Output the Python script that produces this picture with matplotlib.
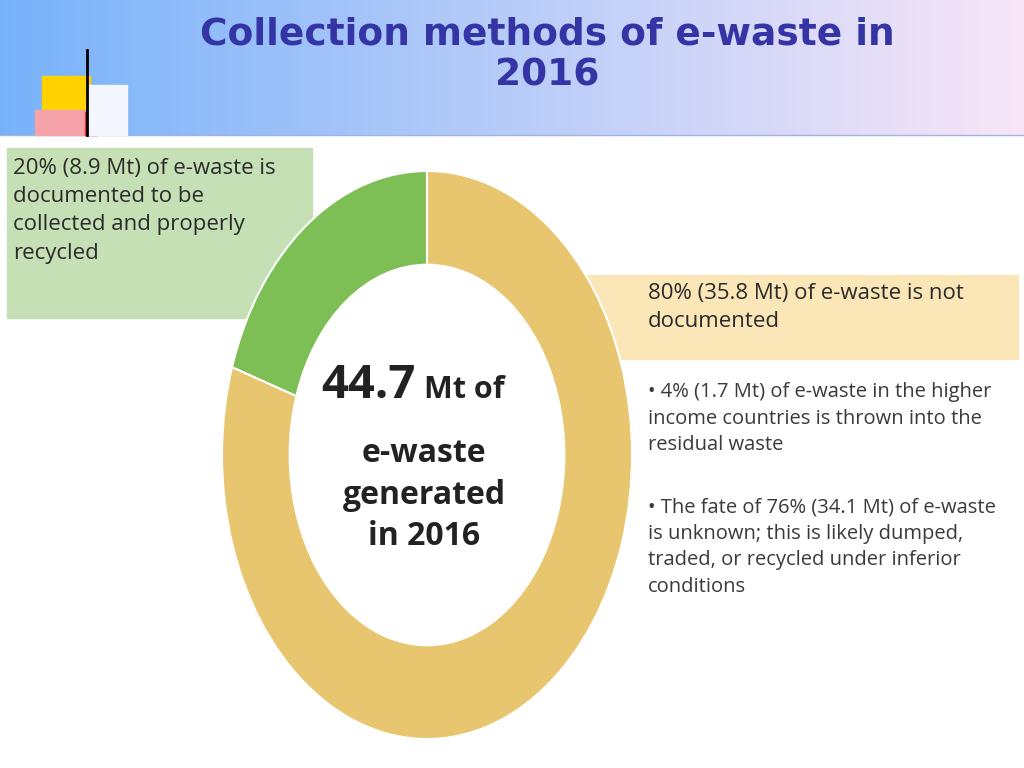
import matplotlib
matplotlib.use("Agg")
import matplotlib.pyplot as plt
import numpy as np
from matplotlib.patches import Rectangle

shares = [20, 80]
labels = ["Documented collected & recycled", "Not documented"]
colors = ["#7DBE55", "#E8C56F"]
title = "Collection methods of e-waste in\n2016"
green_text = "20% (8.9 Mt) of e-waste is\ndocumented to be\ncollected and properly\nrecycled"
tan_text = "80% (35.8 Mt) of e-waste is not\ndocumented"
bullet1 = "• 4% (1.7 Mt) of e-waste in the higher\nincome countries is thrown into the\nresidual waste"
bullet2 = "• The fate of 76% (34.1 Mt) of e-waste\nis unknown; this is likely dumped,\ntraded, or recycled under inferior\nconditions"

FONT = ["Liberation Sans Narrow", "Open Sans", "DejaVu Sans"]

fig = plt.figure(figsize=(10.24, 7.68), dpi=100)
bg = fig.add_axes([0, 0, 1, 1])
bg.set_xlim(0, 1024); bg.set_ylim(768, 0); bg.axis("off")

grad = np.linspace(0, 1, 256)
c1 = np.array([0.47, 0.70, 0.98]); c2 = np.array([0.97, 0.90, 0.97])
img = (c1[None, :] * (1 - grad[:, None]) + c2[None, :] * grad[:, None])[None, :, :]
bg.imshow(img, extent=[0, 1024, 135, 0], aspect="auto", zorder=0)
bg.plot([0, 1024], [135, 135], color="#9DB5E0", lw=1)
bg.add_patch(Rectangle((42, 76), 48, 36, color="#FFD200", zorder=2))
bg.add_patch(Rectangle((35, 110), 62, 25, color="#F5A3A8", zorder=2))
bg.add_patch(Rectangle((88, 85), 39, 50, color="#F4F6FF", zorder=3))
bg.add_patch(Rectangle((85, 112), 12, 23, color="#F03030", zorder=2))
bg.plot([87, 87], [50, 135], color="black", lw=2, zorder=4)
bg.text(547, 55, title, ha="center", va="center", fontsize=27, fontweight="bold",
        color="#3534A4", family="DejaVu Sans", linespacing=1.2)

bg.add_patch(Rectangle((7, 148), 305, 170, color="#C5E0B4", zorder=1))
bg.add_patch(Rectangle((585, 275), 433, 84, color="#FBE6B8", zorder=1))
bg.text(13, 158, green_text, va="top", ha="left", fontsize=16, family=FONT, color="#2B2B2B", linespacing=1.45, zorder=5)
bg.text(648, 283, tan_text, va="top", ha="left", fontsize=16, family=FONT, color="#2B2B2B", linespacing=1.45, zorder=5)
bg.text(648, 382, bullet1, va="top", ha="left", fontsize=14.5, family=FONT, color="#3A3A3A", linespacing=1.45)
bg.text(648, 497, bullet2, va="top", ha="left", fontsize=14.5, family=FONT, color="#3A3A3A", linespacing=1.45)

pax = fig.add_axes([222/1024, (768-739)/768, 410/1024, 568/768])
pax.pie(shares, colors=colors, startangle=90, counterclock=True, radius=1,
        wedgeprops=dict(width=0.33, edgecolor="white", linewidth=1.5))
pax.set_xlim(-1, 1); pax.set_ylim(-1, 1); pax.set_aspect("auto"); pax.axis("off")
pax.patch.set_alpha(0)

bg.text(416, 385, "44.7", fontsize=34, fontweight="bold", family=FONT, color="#222", va="center", ha="right", zorder=6)
bg.text(424, 390, "Mt of", fontsize=22, fontweight="bold", family=FONT, color="#222", va="center", ha="left", zorder=6)
bg.text(424, 495, "e-waste\ngenerated\nin 2016", fontsize=23, fontweight="bold", family=FONT, color="#222",
        va="center", ha="center", linespacing=1.35, zorder=6)

fig.savefig("out.png", dpi=100)
